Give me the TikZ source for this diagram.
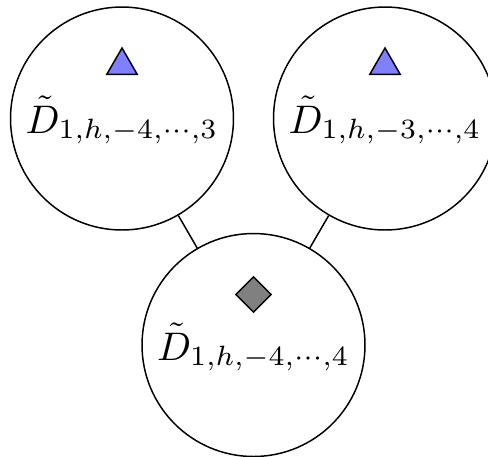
\documentclass[tikz,border=0pt]{standalone}
\usetikzlibrary{shapes.geometric}
\tikzset{
  bigcirc/.style={circle, draw, line width=0.55pt, minimum size=82.5pt, inner sep=0pt},
  tri/.style={regular polygon, regular polygon sides=3, draw, line width=0.55pt, fill={rgb,255:red,128;green,128;blue,255}, minimum size=12.95pt, inner sep=0pt},
  dia/.style={diamond, draw, line width=0.55pt, fill={rgb,255:red,128;green,128;blue,128}, minimum width=13.3pt, minimum height=13.3pt, inner sep=0pt},
  lbl/.style={anchor=base, inner sep=0pt},
  conn/.style={line width=0.55pt}
}
\newcommand{\biglbl}[1]{\scalebox{1.475}{$#1$}}
\begin{document}
\begin{tikzpicture}[x=0.37pt,y=-0.37pt]
\clip (0,0) rectangle (488,456);
\useasboundingbox (0,0) rectangle (488,456);
\node[bigcirc] (L) at (122,118.5) {};
\node[bigcirc] (R) at (385,118.5) {};
\node[bigcirc] (B) at (253.5,345) {};
\node[tri] (tL) at (122,65.5) {};
\node[tri] (tR) at (385,65.5) {};
\node[dia] (dB) at (253.5,294.5) {};
\node[lbl] (xL) at (122,133) {\biglbl{\tilde{D}_{1,h,-4,\cdots,3}}};
\node[lbl] (xR) at (385,133) {\biglbl{\tilde{D}_{1,h,-3,\cdots,4}}};
\node[lbl] (xB) at (253.5,360) {\biglbl{\tilde{D}_{1,h,-4,\cdots,4}}};
\draw[conn] (L) -- (B);
\draw[conn] (R) -- (B);
\end{tikzpicture}
\end{document}
